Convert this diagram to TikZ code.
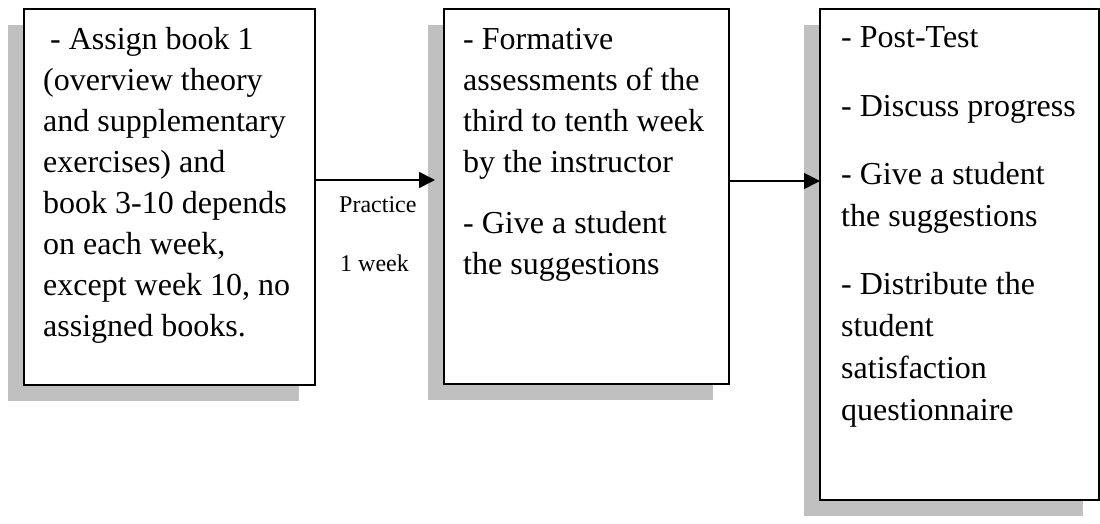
\documentclass[tikz,border=0pt]{standalone}
\usepackage{fontspec}
\setmainfont{Liberation Serif}
\usetikzlibrary{arrows.meta,shadows,calc}
\definecolor{shadowgray}{RGB}{192,192,192}
\begin{document}
\begin{tikzpicture}[x=1pt,y=-1pt,
  box/.style={draw, line width=1.6pt, fill=white, anchor=north west, inner sep=0pt,
    drop shadow={shadow xshift=-16pt, shadow yshift=-16pt, fill=shadowgray, opacity=1}},
  body/.style={anchor=base west, inner sep=0pt, font=\fontsize{32pt}{41pt}\selectfont},
  small/.style={anchor=base west, inner sep=0pt, font=\fontsize{24pt}{29pt}\selectfont},
  arr/.style={line width=1.6pt, -{Triangle[length=16pt,width=16pt]}}]
\useasboundingbox (0,0) rectangle (1100,524);

% the three stage boxes
\node[box, minimum width=291pt, minimum height=376pt] (b1) at (23,8) {};
\node[box, minimum width=285pt, minimum height=375pt] (b2) at (443,8) {};
\node[box, minimum width=279pt, minimum height=491pt] (b3) at (819,8) {};

% box contents
\node[body] (t1) at (43,50) {\parbox[t]{270pt}{\hspace*{7pt}- Assign book 1\\(overview theory\\and supplementary\\exercises) and\\book 3-10 depends\\on each week,\\except week 10, no\\assigned books.}};
\node[body] (t2) at (463,50) {\parbox[t]{260pt}{- Formative\\assessments of the\\third to tenth week\\by the instructor\\[20pt]- Give a student\\the suggestions}};
\node[body] (t3) at (841,48) {\parbox[t]{250pt}{\fontsize{32pt}{42pt}\selectfont - Post-Test\\[27pt]- Discuss progress\\[26pt]- Give a student\\the suggestions\\[26pt]- Distribute the\\student\\satisfaction\\questionnaire}};

% connectors
\draw[arr] ($(b1.north east)+(0,172)$) -- ($(b2.north west)+(-8,172)$);
\draw[arr] ($(b2.north east)+(0,173)$) -- ($(b3.north west)+(1,173)$);

% connector label
\node[small] (p) at (339,212) {Practice};
\node[small] (w) at (340,271) {1 week};
\end{tikzpicture}
\end{document}
